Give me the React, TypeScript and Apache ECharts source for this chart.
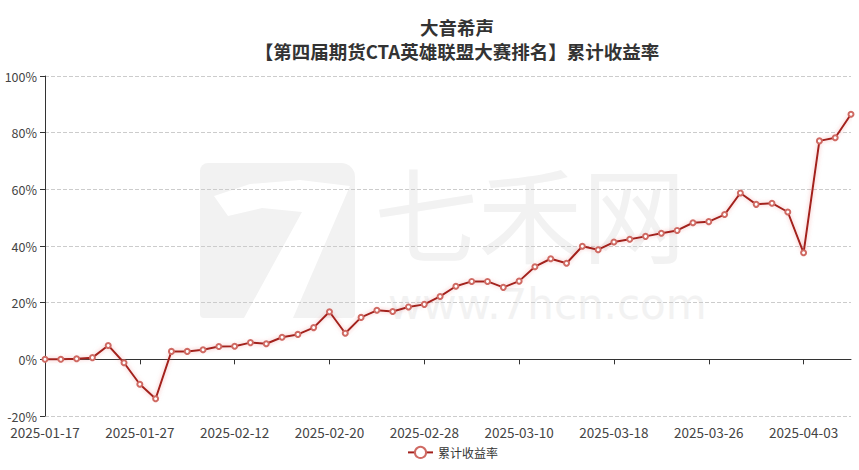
import React, { useEffect, useRef } from "react";
import * as echarts from "echarts";

const categories: string[] = [
  "2025-01-17", "2025-01-20", "2025-01-21", "2025-01-22", "2025-01-23", "2025-01-24",
  "2025-01-27", "2025-02-05", "2025-02-06", "2025-02-07", "2025-02-10", "2025-02-11",
  "2025-02-12", "2025-02-13", "2025-02-14", "2025-02-17", "2025-02-18", "2025-02-19",
  "2025-02-20", "2025-02-21", "2025-02-24", "2025-02-25", "2025-02-26", "2025-02-27",
  "2025-02-28", "2025-03-03", "2025-03-04", "2025-03-05", "2025-03-06", "2025-03-07",
  "2025-03-10", "2025-03-11", "2025-03-12", "2025-03-13", "2025-03-14", "2025-03-17",
  "2025-03-18", "2025-03-19", "2025-03-20", "2025-03-21", "2025-03-24", "2025-03-25",
  "2025-03-26", "2025-03-27", "2025-03-28", "2025-03-31", "2025-04-01", "2025-04-02",
  "2025-04-03", "2025-04-07", "2025-04-08", "2025-04-09",
];

const cumulativeReturn: number[] = [
  0, 0, 0.2, 0.6, 4.9, -1.2, -8.8, -13.9, 2.8, 2.8, 3.4, 4.5,
  4.6, 5.9, 5.5, 7.8, 8.8, 11.2, 16.8, 9.2, 14.8, 17.3, 16.9, 18.5,
  19.4, 22.2, 25.8, 27.5, 27.5, 25.4, 27.6, 32.7, 35.5, 33.9, 39.9, 38.7,
  41.4, 42.4, 43.4, 44.5, 45.5, 48.2, 48.6, 51.1, 58.7, 54.7, 55.1, 52.0,
  37.6, 77.1, 78.2, 86.5,
];

const seriesName = "累计收益率";
const titleText = "大音希声\n【第四届期货CTA英雄联盟大赛排名】累计收益率";

const FONT = "'Noto Sans CJK SC', 'Noto Sans', sans-serif";
const WM = "#f2f2f2";

export default function App() {
  const ref = useRef<HTMLDivElement>(null);
  useEffect(() => {
    document.body.style.margin = "0";
    if (!ref.current) return;
    const chart = echarts.init(ref.current, null, { renderer: "svg" });
    chart.setOption({
      animation: false,
      backgroundColor: "#ffffff",
      textStyle: { fontFamily: FONT },
      title: {
        text: titleText,
        left: 452,
        textAlign: "center",
        top: 10,
        textStyle: {
          fontSize: 18.5,
          fontWeight: "bold",
          color: "#333333",
          lineHeight: 24,
          fontFamily: FONT,
        },
      },
      graphic: [
        {
          type: "rect",
          z: -10,
          shape: { x: 200, y: 163, width: 155, height: 155, r: [8, 14, 4, 4] },
          style: { fill: WM },
        },
        {
          type: "polygon",
          z: -9,
          shape: {
            points: [
              [214, 196], [250, 184], [300, 180], [350, 186],
              [293, 318], [244, 318], [302, 212], [262, 208], [228, 216],
            ],
          },
          style: { fill: "#ffffff" },
        },
        {
          type: "text",
          z: -10,
          x: 374,
          y: 210,
          style: {
            text: "七禾网",
            fontSize: 104,
            lineHeight: 92,
            fontFamily: FONT,
            fill: WM,
            verticalAlign: "middle",
            align: "left",
          },
        },
        {
          type: "text",
          z: -10,
          x: 388,
          y: 304,
          style: {
            text: "www.7hcn.com",
            fontSize: 42,
            lineHeight: 32,
            fontFamily: "'DejaVu Sans', sans-serif",
            fill: WM,
            verticalAlign: "middle",
            align: "left",
          },
        },
      ],
      legend: {
        data: [seriesName],
        bottom: 6,
        left: 402,
        textStyle: { fontSize: 12, color: "#333333", fontFamily: FONT },
        itemWidth: 25,
        itemHeight: 14,
      },
      grid: { left: 45, right: 8, top: 76, bottom: 54, containLabel: false },
      xAxis: [
        {
          type: "category",
          data: categories,
          boundaryGap: false,
          axisLine: { onZero: true, lineStyle: { color: "#333333", width: 1 } },
          axisTick: { show: true, interval: 5, length: 5, lineStyle: { color: "#333333" } },
          axisLabel: { show: false },
          splitLine: { show: false },
        },
        {
          type: "category",
          data: categories,
          boundaryGap: false,
          position: "bottom",
          axisLine: { show: false },
          axisTick: { show: false },
          axisLabel: {
            show: true,
            interval: 5,
            fontSize: 13.5,
            lineHeight: 13,
            color: "#444444",
            margin: 9,
            fontFamily: FONT,
          },
          splitLine: { show: false },
        },
      ],
      yAxis: {
        type: "value",
        min: -20,
        max: 100,
        interval: 20,
        axisLine: { show: true, lineStyle: { color: "#333333", width: 1 } },
        axisTick: { show: true, length: 5, lineStyle: { color: "#333333" } },
        axisLabel: {
          formatter: "{value}%",
          fontSize: 12.5,
          lineHeight: 12,
          color: "#444444",
          margin: 8,
          fontFamily: FONT,
        },
        splitLine: { show: true, lineStyle: { type: "dashed", color: "#cccccc" } },
      },
      series: [
        {
          name: seriesName,
          type: "line",
          xAxisIndex: 0,
          data: cumulativeReturn,
          symbol: "emptyCircle",
          symbolSize: 5,
          showAllSymbol: true,
          lineStyle: {
            color: "#a3201b",
            width: 2,
            shadowColor: "rgba(235,120,120,0.55)",
            shadowBlur: 4,
          },
          itemStyle: { color: "#cf6a63", borderWidth: 1 },
        },
      ],
    });
    return () => chart.dispose();
  }, []);
  return (
    <div
      ref={ref}
      style={{ position: "absolute", left: 0, top: 0, width: 859, height: 470 }}
    />
  );
}
